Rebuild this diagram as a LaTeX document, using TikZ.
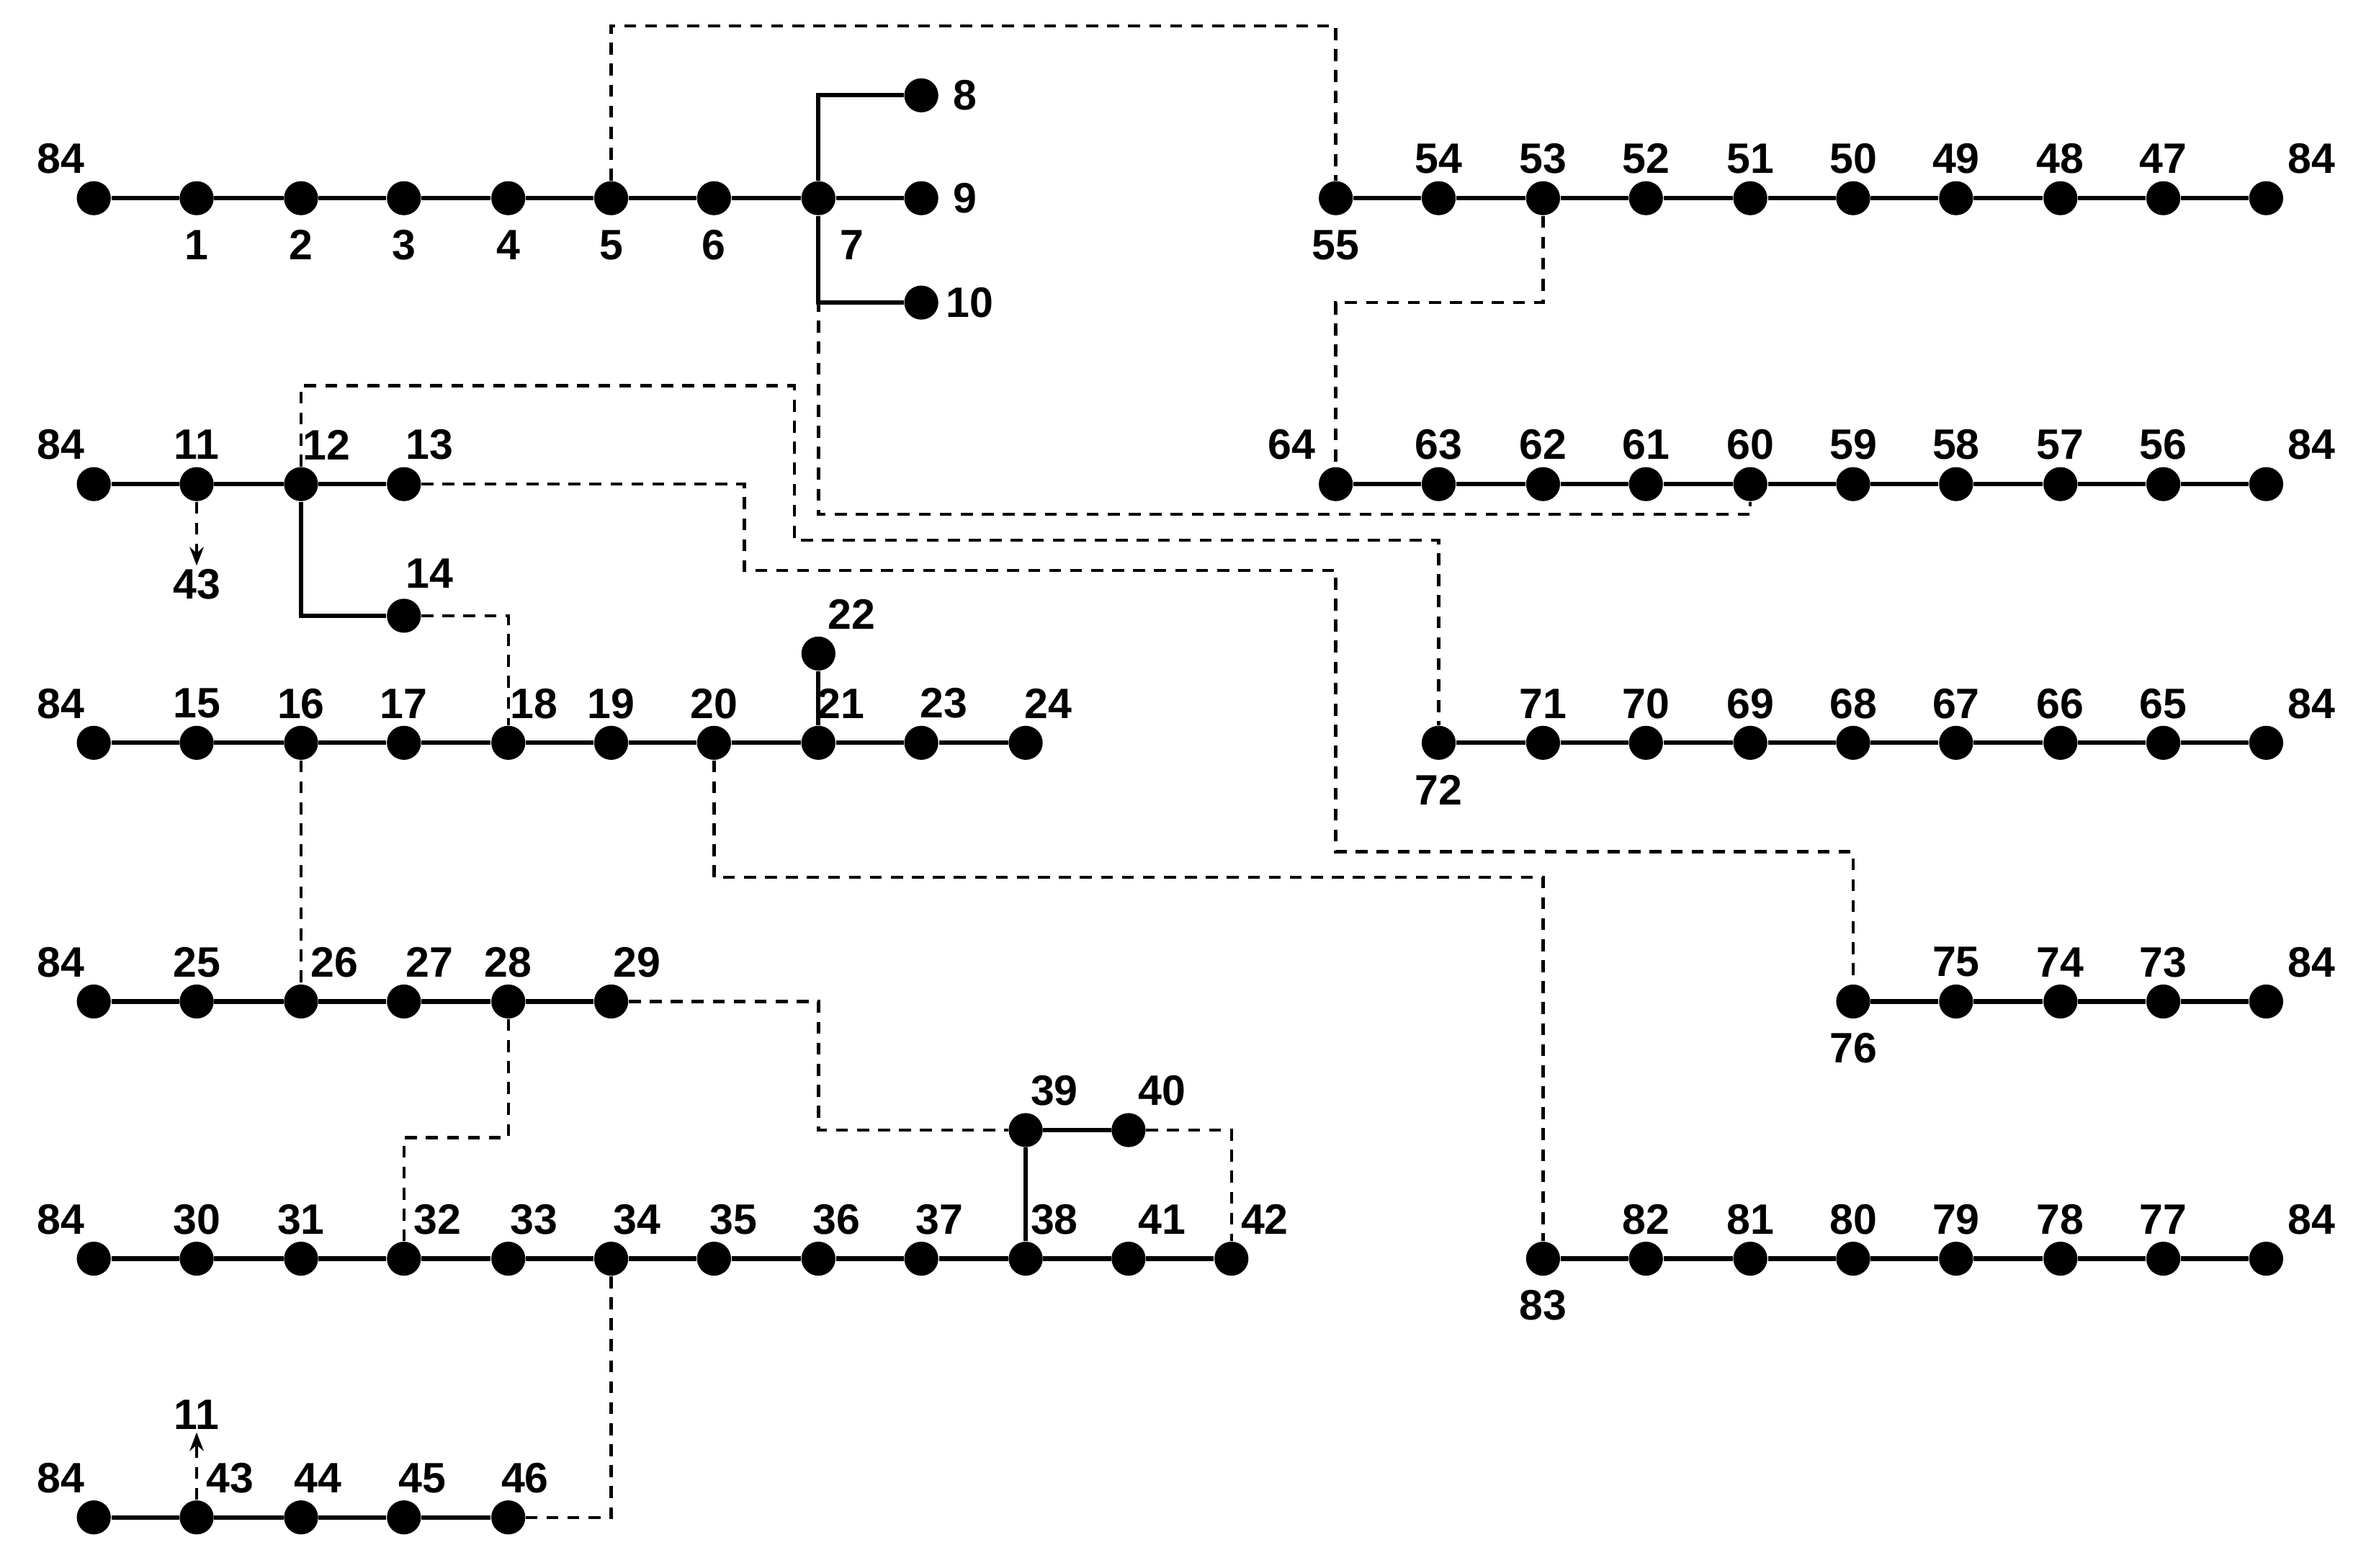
\documentclass[tikz,border=0pt]{standalone}
\usepackage{fontspec}
\setmainfont{Liberation Sans}
\usetikzlibrary{arrows.meta}

\begin{document}
\begin{tikzpicture}[x=0.02cm,y=-0.02cm,
  bus/.style={circle,fill=black,inner sep=0pt,minimum size=0.45cm},
  lbl/.style={font=\fontsize{16}{18}\selectfont\bfseries,inner sep=1pt},
  feeder/.style={line width=1.7pt},
  tie/.style={line width=1.2pt,dash pattern=on 4.5pt off 3.4pt}]
\useasboundingbox (0,0) rectangle (1564,1036);
% buses: name/x/y/label dx/label dy/label
\foreach \nm/\x/\y/\dx/\dy/\t in {
  e1/62/131/-22/-26/84, n1/130/131/0/31/1, n2/199/131/0/31/2, n3/267/131/0/31/3,
  n4/336/131/0/31/4, n5/404/131/0/31/5, n6/472/131/0/31/6, n7/541/131/22/31/7,
  n8/609/63/29/0/8, n9/609/131/29/0/9, n10/609/200/32/0/10,
  n55/883/131/0/31/55, n54/951/131/0/-26/54, n53/1020/131/0/-26/53, n52/1088/131/0/-26/52,
  n51/1157/131/0/-26/51, n50/1225/131/0/-26/50, n49/1293/131/0/-26/49, n48/1362/131/0/-26/48,
  n47/1430/131/0/-26/47, f1/1498/131/30/-26/84,
  e2/62/320/-22/-26/84, n11/130/320/0/-26/11, n12/199/320/17/-26/12, n13/267/320/17/-26/13,
  n14/267/407/17/-28/14,
  n64/883/320/-29/-26/64, n63/951/320/0/-26/63, n62/1020/320/0/-26/62, n61/1088/320/0/-26/61,
  n60/1157/320/0/-26/60, n59/1225/320/0/-26/59, n58/1293/320/0/-26/58, n57/1362/320/0/-26/57,
  n56/1430/320/0/-26/56, f2/1498/320/30/-26/84,
  e3/62/491/-22/-26/84, n15/130/491/0/-26/15, n16/199/491/0/-26/16, n17/267/491/0/-26/17,
  n18/336/491/17/-26/18, n19/404/491/0/-26/19, n20/472/491/0/-26/20, n21/541/491/15/-26/21,
  n22/541/432/22/-26/22, n23/609/491/15/-26/23, n24/678/491/15/-26/24,
  n72/951/491/0/31/72, n71/1020/491/0/-26/71, n70/1088/491/0/-26/70, n69/1157/491/0/-26/69,
  n68/1225/491/0/-26/68, n67/1293/491/0/-26/67, n66/1362/491/0/-26/66, n65/1430/491/0/-26/65,
  f3/1498/491/30/-26/84,
  e4/62/662/-22/-26/84, n25/130/662/0/-26/25, n26/199/662/22/-26/26, n27/267/662/17/-26/27,
  n28/336/662/0/-26/28, n29/404/662/17/-26/29, n39/678/747/19/-26/39, n40/746/747/22/-26/40,
  n76/1225/662/0/31/76, n75/1293/662/0/-26/75, n74/1362/662/0/-26/74, n73/1430/662/0/-26/73,
  f4/1498/662/30/-26/84,
  e5/62/832/-22/-26/84, n30/130/832/0/-26/30, n31/199/832/0/-26/31, n32/267/832/22/-26/32,
  n33/336/832/17/-26/33, n34/404/832/17/-26/34, n35/472/832/13/-26/35, n36/541/832/12/-26/36,
  n37/609/832/12/-26/37, n38/678/832/19/-26/38, n41/746/832/22/-26/41, n42/814/832/22/-26/42,
  n83/1020/832/0/31/83, n82/1088/832/0/-26/82, n81/1157/832/0/-26/81, n80/1225/832/0/-26/80,
  n79/1293/832/0/-26/79, n78/1362/832/0/-26/78, n77/1430/832/0/-26/77, f5/1498/832/30/-26/84,
  e6/62/1003/-22/-26/84, n43/130/1003/22/-26/43, n44/199/1003/11/-26/44, n45/267/1003/12/-26/45,
  n46/336/1003/11/-26/46}
{
  \node[bus] (\nm) at (\x,\y) {};
  \node[lbl] (l\nm) at (\x+\dx,\y+\dy) {\t};
}
% tie switches
\begin{scope}[on background layer/.style={}]
\draw[tie] (n5) -- ++(0,-114) -| (n55);
\draw[tie] (n7) -- ++(0,209) -| (n60);
\draw[tie] (n12) -- ++(0,-65) -| ++(326,102) -| (n72);
\draw[tie] (n13) -| ++(225,57) -| ++(391,186) -| (n76);
\draw[tie] (n14) -| (n18);
\draw[tie] (n16) -- (n26);
\draw[tie] (n20) -- ++(0,89) -| (n83);
\draw[tie] (n53) -- ++(0,69) -| (n64);
\draw[tie] (n29) -| ++(137,85) -- (n39);
\draw[tie] (n40) -| (n42);
\draw[tie] (n28) -- ++(0,90) -| (n32);
\draw[tie] (n34) |- (n46);
\end{scope}
\node[lbl] (t43) at (130,386) {43};
\node[lbl] (t11) at (130,935) {11};
\draw[tie,-{Stealth[length=7pt]}] (n11) -- (t43);
\draw[tie,-{Stealth[length=7pt]}] (n43) -- (t11);
% feeders
\draw[feeder] (e1) -- (n1) -- (n2) -- (n3) -- (n4) -- (n5) -- (n6) -- (n7) -- (n9);
\draw[feeder] (n7) |- (n8);
\draw[feeder] (n7) |- (n10);
\draw[feeder] (n55) -- (n54) -- (n53) -- (n52) -- (n51) -- (n50) -- (n49) -- (n48) -- (n47) -- (f1);
\draw[feeder] (e2) -- (n11) -- (n12) -- (n13);
\draw[feeder] (n12) |- (n14);
\draw[feeder] (n64) -- (n63) -- (n62) -- (n61) -- (n60) -- (n59) -- (n58) -- (n57) -- (n56) -- (f2);
\draw[feeder] (e3) -- (n15) -- (n16) -- (n17) -- (n18) -- (n19) -- (n20) -- (n21) -- (n23) -- (n24);
\draw[feeder] (n21) -- (n22);
\draw[feeder] (n72) -- (n71) -- (n70) -- (n69) -- (n68) -- (n67) -- (n66) -- (n65) -- (f3);
\draw[feeder] (e4) -- (n25) -- (n26) -- (n27) -- (n28) -- (n29);
\draw[feeder] (n76) -- (n75) -- (n74) -- (n73) -- (f4);
\draw[feeder] (e5) -- (n30) -- (n31) -- (n32) -- (n33) -- (n34) -- (n35) -- (n36) -- (n37) -- (n38) -- (n41) -- (n42);
\draw[feeder] (n38) -- (n39) -- (n40);
\draw[feeder] (n83) -- (n82) -- (n81) -- (n80) -- (n79) -- (n78) -- (n77) -- (f5);
\draw[feeder] (e6) -- (n43) -- (n44) -- (n45) -- (n46);
\end{tikzpicture}
\end{document}
